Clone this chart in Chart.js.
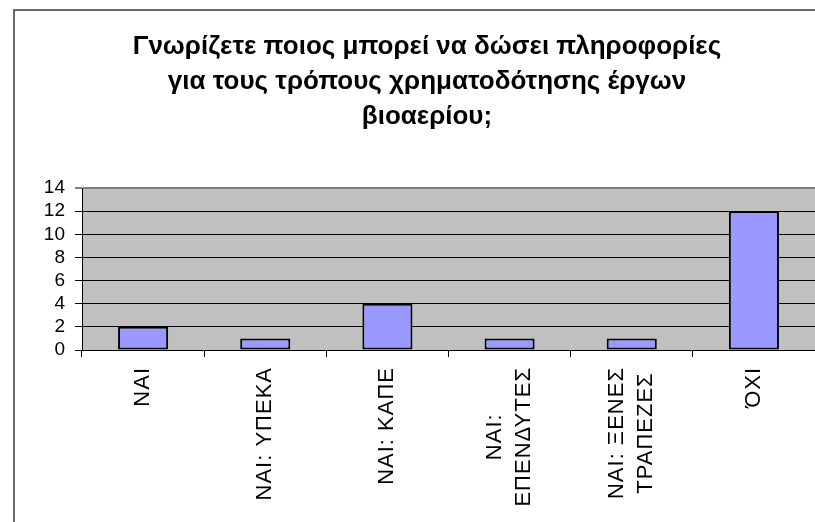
<!DOCTYPE html>
<html>
<head>
<meta charset="utf-8">
<title>βιοαέριο</title>
<script src="https://cdn.jsdelivr.net/npm/chart.js@4/dist/chart.umd.min.js"></script>
<style>
body { margin: 0; background: #ffffff; }
canvas { display: block; }
</style>
</head>
<body>
<canvas id="bioChart" width="815" height="522"></canvas>
<script>
// data
const titleLines = [
  "Γνωρίζετε ποιος μπορεί να δώσει πληροφορίες",
  "για τους τρόπους χρηματοδότησης έργων",
  "βιοαερίου;"
];
const categories = [
  ["ΝΑΙ"],
  ["ΝΑΙ: ΥΠΕΚΑ"],
  ["ΝΑΙ: ΚΑΠΕ"],
  ["ΝΑΙ:", "ΕΠΕΝΔΥΤΕΣ"],
  ["ΝΑΙ: ΞΕΝΕΣ", "ΤΡΑΠΕΖΕΣ"],
  ["ΌΧΙ"]
];
const answers = [2, 1, 4, 1, 1, 12];
const yMin = 0;
const yMax = 14;
const yStep = 2;

const FONT = "'Liberation Sans', Arial, sans-serif";

// grey plot background + outer frame
const backdrop = {
  id: "backdrop",
  beforeDraw(chart) {
    const ctx = chart.ctx;
    const a = chart.chartArea;
    ctx.save();
    ctx.fillStyle = "#c0c0c0";
    ctx.fillRect(a.left, a.top, a.right - a.left, a.bottom - a.top);
    ctx.strokeStyle = "#3a3a3a";
    ctx.lineWidth = 1.5;
    ctx.beginPath();
    ctx.moveTo(14, chart.height);
    ctx.lineTo(14, 10);
    ctx.lineTo(chart.width, 10);
    ctx.stroke();
    ctx.restore();
  }
};

// title, centred on the frame rather than the canvas
const titleText = {
  id: "titleText",
  afterDraw(chart) {
    const ctx = chart.ctx;
    ctx.save();
    ctx.fillStyle = "#000";
    ctx.font = "bold 26px " + FONT;
    ctx.textAlign = "center";
    ctx.textBaseline = "middle";
    titleLines.forEach(function (t, i) {
      ctx.fillText(t, 427, 47 + i * 35);
    });
    ctx.restore();
  }
};

// vertical category labels, lines centred on the longest one
const xLabels = {
  id: "xLabels",
  afterDraw(chart) {
    const ctx = chart.ctx;
    const xs = chart.scales.x;
    const top = xs.top + 17;
    const lineH = 29;
    ctx.save();
    ctx.fillStyle = "#000";
    ctx.font = "22px " + FONT;
    ctx.letterSpacing = "1px";
    ctx.textAlign = "center";
    ctx.textBaseline = "middle";
    categories.forEach(function (lines, i) {
      const x = xs.getPixelForValue(i);
      let w = 0;
      lines.forEach(function (l) { w = Math.max(w, ctx.measureText(l).width); });
      ctx.save();
      ctx.translate(x, top);
      ctx.rotate(-Math.PI / 2);
      lines.forEach(function (l, j) {
        ctx.fillText(l, -w / 2, (j - (lines.length - 1) / 2) * lineH);
      });
      ctx.restore();
    });
    ctx.restore();
  }
};

new Chart(document.getElementById("bioChart"), {
  type: "bar",
  data: {
    labels: categories,
    datasets: [{
      data: answers,
      backgroundColor: "#9999ff",
      borderColor: "#000000",
      borderWidth: 2,
      borderSkipped: false,
      categoryPercentage: 1,
      barPercentage: 0.41
    }]
  },
  options: {
    responsive: false,
    animation: false,
    layout: { padding: { top: 188, left: 0, right: 0, bottom: 0 } },
    plugins: {
      legend: { display: false },
      title: { display: false },
      tooltip: { enabled: false }
    },
    scales: {
      x: {
        offset: true,
        grid: {
          offset: true,
          drawOnChartArea: false,
          color: "#000",
          tickLength: 7
        },
        border: { color: "#000", width: 1 },
        ticks: { display: false },
        afterFit(scale) { scale.height = 172; }
      },
      y: {
        min: yMin,
        max: yMax,
        ticks: {
          stepSize: yStep,
          autoSkip: false,
          color: "#000",
          padding: 10,
          font: { family: FONT, size: 19 }
        },
        grid: {
          color(c) { return c.tick.value === yMax ? "#808080" : "#000"; },
          lineWidth(c) { return c.tick.value === yMax ? 2 : 1; },
          tickLength: 7
        },
        border: { color: "#000", width: 1 },
        afterFit(scale) { scale.width = 82; }
      }
    }
  },
  plugins: [backdrop, titleText, xLabels]
});
</script>
</body>
</html>
